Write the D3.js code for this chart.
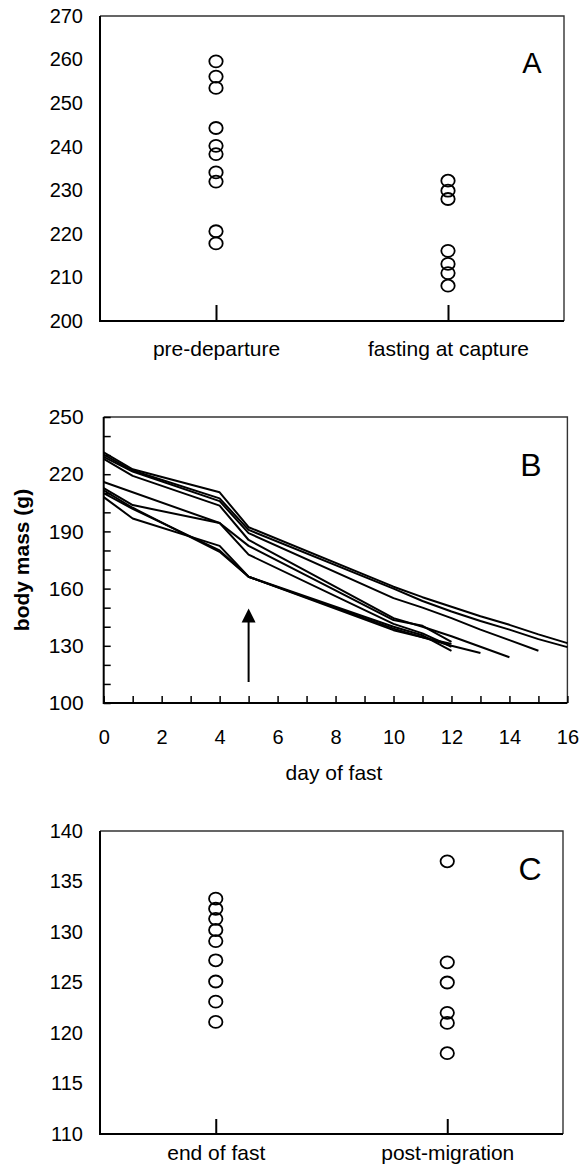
<!DOCTYPE html>
<html>
<head>
<meta charset="utf-8">
<script src="https://cdn.jsdelivr.net/npm/d3@7"></script>
<style>
  body { margin: 0; background: #fff; }
  svg { display: block; }
  text { font-family: Arial, "Liberation Sans", Helvetica, sans-serif; fill: #000; }
</style>
</head>
<body>
<div id="chart"></div>
<script>
// ---- panel A: body mass before departure / at capture ----
const catsA = ["pre-departure", "fasting at capture"];
const preDeparture = [259.6, 256.1, 253.5, 244.3, 240.2, 238.3, 234.1, 232.0, 220.6, 217.8];
const fastingAtCapture = [232.2, 229.9, 228.0, 216.1, 213.1, 211.0, 208.1];
const ticksA = [200, 210, 220, 230, 240, 250, 260, 270];

// ---- panel B: body mass during the fast, one array per bird [day, mass] ----
const bird1 = [[0,231.5],[1,222.6],[4,210.5],[5,192.2],[10,161],[11,155.5],[12,150.5],[13,145.5],[14,141],[15,136],[16,131.4]];
const bird2 = [[0,230.3],[1,221.9],[4,207.3],[5,190.8],[10,160],[11,153.5],[12,148],[13,143],[14,138.5],[15,133.5],[16,129.3]];
const bird3 = [[0,229.1],[1,221.4],[4,205.9],[5,189.1],[10,155],[11,150],[12,144.5],[13,138.5],[14,133],[15,127.4]];
const bird4 = [[0,228.0],[1,219.1],[4,203.5],[5,185.5],[10,144.5],[11,140],[12,135],[13,129.5],[14,124]];
const bird5 = [[0,215.9],[4,194.4],[5,182.4],[10,143.5],[11,140.5],[12,132.1]];
const bird6 = [[0,212.7],[1,203.8],[4,194.4],[5,177.8],[10,141.5],[11,136.5],[12,129.5]];
const bird7 = [[0,211.5],[1,202.4],[4,179.3],[5,166.2],[10,140],[11,135.5],[12,127.3]];
const bird8 = [[0,210.1],[1,201.8],[4,180],[5,166.2],[10,139],[11,134.5],[12,130],[13,126.2]];
const bird9 = [[0,208.0],[1,196.8],[4,182.4],[5,166.2],[10,138.2],[11,134.5],[12,131]];
const birds = [bird1, bird2, bird3, bird4, bird5, bird6, bird7, bird8, bird9];
const ticksBx = [0, 2, 4, 6, 8, 10, 12, 14, 16];
const ticksBy = [100, 130, 160, 190, 220, 250];
const arrowB = {day: 5, from: 111, to: 149.5};

// ---- panel C: end of fast / post-migration ----
const catsC = ["end of fast", "post-migration"];
const endOfFast = [133.3, 132.3, 131.3, 130.2, 129.1, 127.2, 125.1, 123.1, 121.1];
const postMigration = [137, 127, 125, 122, 121, 118];
const ticksC = [110, 115, 120, 125, 130, 135, 140];

const W = 579, H = 1173;
const svg = d3.select("#chart").append("svg")
    .attr("width", W)
    .attr("height", H);
svg.append("rect").attr("width", W).attr("height", H).attr("fill", "#fff");

// draws box frame: light top/right, heavier left/bottom
function frame(x0, x1, y0, y1) {
    svg.append("path")
        .attr("d", `M${x0},${y0}H${x1}V${y1}`)
        .attr("fill", "none").attr("stroke", "#333").attr("stroke-width", 1.4);
    svg.append("path")
        .attr("d", `M${x0},${y0}V${y1}H${x1}`)
        .attr("fill", "none").attr("stroke", "#000").attr("stroke-width", 2);
}

function styleLabels(g, size) {
    g.select(".domain").remove();
    g.selectAll("text").attr("font-size", size).attr("fill", "#000")
        .style("font-family", "Arial, 'Liberation Sans', sans-serif");
}

// dot panel used for A and C
function dotPanel(opts) {
    const x = d3.scalePoint().domain(opts.cats).range([opts.x0, opts.x1]).padding(0.5);
    const y = d3.scaleLinear().domain(opts.domain).range([opts.y1, opts.y0]);

    frame(opts.x0, opts.x1, opts.y0, opts.y1);

    // y labels
    const gy = svg.append("g")
        .attr("transform", `translate(${opts.x0},0)`)
        .call(d3.axisLeft(y).tickValues(opts.ticks).tickSize(0).tickPadding(17));
    styleLabels(gy, 20);

    // category ticks pointing up from the bottom axis
    const gt = svg.append("g")
        .attr("transform", `translate(0,${opts.y1})`)
        .call(d3.axisTop(x).tickSize(opts.tickLen).tickFormat(""));
    gt.select(".domain").remove();
    gt.selectAll("line").attr("stroke", "#000").attr("stroke-width", 2);

    // category labels
    const gx = svg.append("g")
        .attr("transform", `translate(0,${opts.y1})`)
        .call(d3.axisBottom(x).tickSize(0).tickPadding(opts.labelPad));
    styleLabels(gx, 21);

    opts.series.forEach(function(vals, i) {
        svg.append("g").selectAll("ellipse")
            .data(vals).enter()
            .append("ellipse")
            .attr("cx", x(opts.cats[i]))
            .attr("cy", d => y(d))
            .attr("rx", 6.7)
            .attr("ry", 6)
            .attr("fill", "none")
            .attr("stroke", "#000")
            .attr("stroke-width", 1.8);
    });

    svg.append("text")
        .attr("x", opts.letterX).attr("y", opts.letterY)
        .attr("text-anchor", "middle")
        .attr("font-size", opts.letterSize)
        .text(opts.letter);
}

dotPanel({
    cats: catsA, series: [preDeparture, fastingAtCapture], domain: [200, 270], ticks: ticksA,
    x0: 100, x1: 564, y0: 16, y1: 321, tickLen: 16, labelPad: 20,
    letter: "A", letterX: 532, letterY: 73, letterSize: 29
});

dotPanel({
    cats: catsC, series: [endOfFast, postMigration], domain: [110, 140], ticks: ticksC,
    x0: 100, x1: 563, y0: 831, y1: 1134, tickLen: 15, labelPad: 11,
    letter: "C", letterX: 530, letterY: 880, letterSize: 32
});

// ---- panel B ----
const bx0 = 103.7, bx1 = 567.4, by0 = 417, by1 = 703;
const xB = d3.scaleLinear().domain([0, 16]).range([bx0, bx1]);
const yB = d3.scaleLinear().domain([100, 250]).range([by1, by0]);

frame(bx0, bx1, by0, by1);

// inner minor ticks
const gyMinor = svg.append("g")
    .attr("transform", `translate(${bx0},0)`)
    .call(d3.axisRight(yB).tickValues(d3.range(100, 251, 10)).tickSize(7).tickFormat(""));
gyMinor.select(".domain").remove();
gyMinor.selectAll("line").attr("stroke", "#000").attr("stroke-width", 1.5);

const gxMinor = svg.append("g")
    .attr("transform", `translate(0,${by1})`)
    .call(d3.axisTop(xB).tickValues(d3.range(0, 17, 1)).tickSize(7).tickFormat(""));
gxMinor.select(".domain").remove();
gxMinor.selectAll("line").attr("stroke", "#000").attr("stroke-width", 1.5);

const gyB = svg.append("g")
    .attr("transform", `translate(${bx0},0)`)
    .call(d3.axisLeft(yB).tickValues(ticksBy).tickSize(0).tickPadding(20));
styleLabels(gyB, 21);

const gxB = svg.append("g")
    .attr("transform", `translate(0,${by1})`)
    .call(d3.axisBottom(xB).tickValues(ticksBx).tickSize(0).tickPadding(27));
styleLabels(gxB, 20);

const line = d3.line()
    .x(d => xB(d[0]))
    .y(d => yB(d[1]));

svg.append("g").selectAll("path")
    .data(birds).enter()
    .append("path")
    .attr("d", line)
    .attr("fill", "none")
    .attr("stroke", "#000")
    .attr("stroke-width", 2)
    .attr("stroke-linejoin", "round");

// arrow marking day 5
const ax = xB(arrowB.day), aTop = yB(arrowB.to), aBot = yB(arrowB.from);
svg.append("line")
    .attr("x1", ax).attr("x2", ax)
    .attr("y1", aBot).attr("y2", aTop + 12)
    .attr("stroke", "#000").attr("stroke-width", 2);
svg.append("path")
    .attr("d", `M${ax},${aTop}L${ax - 7},${aTop + 14}L${ax + 7},${aTop + 14}Z`)
    .attr("fill", "#000");

svg.append("text")
    .attr("x", 531).attr("y", 476)
    .attr("text-anchor", "middle")
    .attr("font-size", 32)
    .text("B");

svg.append("text")
    .attr("x", 334).attr("y", 780)
    .attr("text-anchor", "middle")
    .attr("font-size", 21)
    .text("day of fast");

svg.append("text")
    .attr("transform", "translate(29,560) rotate(-90)")
    .attr("text-anchor", "middle")
    .attr("font-size", 21)
    .attr("font-weight", "bold")
    .text("body mass (g)");
</script>
</body>
</html>
